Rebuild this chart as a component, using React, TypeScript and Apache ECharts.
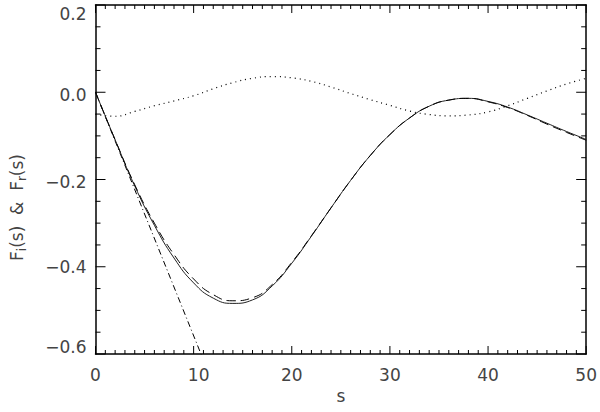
import React, { useEffect, useRef } from "react";
import * as echarts from "echarts";

// s grid (abscissa)
const sValues = [0, 2, 4, 6, 8, 10, 12, 14, 16, 18, 20, 22, 24, 26, 28, 30, 32, 34, 36, 38, 40, 42, 44, 46, 48, 50];
// solid curve
const solidValues = [0, -0.109, -0.215, -0.305, -0.38, -0.437, -0.472, -0.484, -0.476, -0.444, -0.392, -0.33, -0.265, -0.202, -0.145, -0.097, -0.059, -0.032, -0.018, -0.014, -0.021, -0.034, -0.052, -0.071, -0.09, -0.108];
// dashed curve
const dashedValues = [0, -0.109, -0.212, -0.3, -0.372, -0.428, -0.464, -0.478, -0.471, -0.441, -0.39, -0.329, -0.265, -0.202, -0.145, -0.097, -0.059, -0.032, -0.018, -0.014, -0.022, -0.035, -0.053, -0.073, -0.092, -0.11];
// dotted curve
const dottedValues = [-0.05, -0.055, -0.044, -0.031, -0.02, -0.008, 0.008, 0.022, 0.032, 0.036, 0.033, 0.025, 0.012, -0.003, -0.017, -0.03, -0.043, -0.051, -0.054, -0.052, -0.045, -0.031, -0.014, 0.003, 0.019, 0.032];
// dash-dot straight line
const lineS = [0, 11];
const lineValues = [0, -0.614];

const xTickLabels = ["0", "10", "20", "30", "40", "50"];
const yTickLabels = ["\u22120.6", "\u22120.4", "\u22120.2", "0.0", "0.2"];

const X_MIN = 0, X_MAX = 50, X_MAJOR = 10, X_MINOR = 1;
const Y_MIN = -0.6, Y_MAX = 0.2, Y_MAJOR = 0.2, Y_MINOR = 0.05;

const FONT = "'DejaVu Sans', sans-serif";
const TXT = "#444";

export default function App() {
  const ref = useRef<HTMLDivElement>(null);
  useEffect(() => {
    if (!ref.current) return;
    const chart = echarts.init(ref.current, null, { renderer: "svg" });
    const base = { fontFamily: FONT, fontSize: 17, color: TXT };
    const yPads = [[0, 0, 14, 0], [0, 0, 0, 0], [5, 0, 0, 0], [6, 0, 0, 0], [18, 0, 0, 0]];
    const yRich: any = {};
    yPads.forEach((p, i) => (yRich["y" + i] = { ...base, padding: p }));
    const xRich: any = {};
    xTickLabels.forEach((_, i) => (xRich["x" + i] = { ...base, padding: i === 1 ? [0, 0, 0, 10] : [0, 0, 0, 0] }));

    // tick positions along the axes: [x, y, kind(0=x,1=y), major]
    const tickData: number[][] = [];
    const nx = Math.round((X_MAX - X_MIN) / X_MINOR);
    for (let i = 0; i <= nx; i++) {
      const v = X_MIN + i * X_MINOR;
      tickData.push([v, Y_MIN, 0, Math.abs(v / X_MAJOR - Math.round(v / X_MAJOR)) < 1e-6 ? 1 : 0]);
    }
    const ny = Math.round((Y_MAX - Y_MIN) / Y_MINOR);
    for (let i = 0; i <= ny; i++) {
      const v = Y_MIN + i * Y_MINOR;
      tickData.push([X_MIN, v, 1, Math.abs(v / Y_MAJOR - Math.round(v / Y_MAJOR)) < 1e-6 ? 1 : 0]);
    }

    const axisCommon = {
      axisLine: { show: true, onZero: false, lineStyle: { color: "#000", width: 1.5 } },
      axisTick: { show: false },
      minorTick: { show: false },
      splitLine: { show: false },
    };

    const mk = (xs: number[], ys: number[]) => xs.map((s, i) => [s, ys[i]]);

    chart.setOption({
      animation: false,
      grid: { left: 94, right: 12, top: 5, bottom: 58 },
      xAxis: [
        {
          type: "value", min: X_MIN, max: X_MAX, interval: X_MAJOR, position: "bottom",
          ...axisCommon,
          axisLabel: {
            show: true, margin: 12,
            formatter: (v: number) => {
              const i = Math.round(v / 10);
              return `{x${i}|${xTickLabels[i]}}`;
            },
            rich: xRich,
          },
          name: "s", nameLocation: "middle", nameGap: 30,
          nameTextStyle: { ...base },
        },
        {
          type: "value", min: X_MIN, max: X_MAX, interval: X_MAJOR, position: "top",
          ...axisCommon,
          axisLabel: { show: false },
        },
      ],
      yAxis: [
        {
          type: "value", min: Y_MIN, max: Y_MAX, interval: Y_MAJOR, position: "left",
          ...axisCommon,
          axisLabel: {
            show: true, margin: 9,
            formatter: (v: number) => {
              const i = Math.round((v + 0.6) / 0.2);
              return `{y${i}|${yTickLabels[i]}}`;
            },
            rich: yRich,
          },
          name: "{a|F}{b|i}{a|(s)  &  F}{b|r}{a|(s)}",
          nameLocation: "middle", nameGap: 68,
          nameTextStyle: {
            ...base,
            padding: [0, 56, 0, 0],
            rich: {
              a: { ...base, lineHeight: 22 },
              b: { fontFamily: FONT, fontSize: 12, color: TXT, lineHeight: 8, verticalAlign: "bottom" },
            },
          },
        },
        {
          type: "value", min: Y_MIN, max: Y_MAX, interval: Y_MAJOR, position: "right",
          ...axisCommon,
          axisLabel: { show: false },
        },
      ],
      series: [
        {
          type: "custom",
          silent: true,
          clip: false,
          data: tickData,
          renderItem: (params: any, api: any) => {
            const cs = params.coordSys;
            const p = api.coord([api.value(0), api.value(1)]);
            const kind = api.value(2);
            const major = api.value(3) === 1;
            const style = { stroke: "#000", lineWidth: 1 };
            if (kind === 0) {
              const len = major ? 8 : 4;
              const bottom = cs.y + cs.height;
              const top = cs.y;
              return {
                type: "group",
                children: [
                  { type: "line", shape: { x1: p[0], y1: bottom, x2: p[0], y2: bottom - len }, style },
                  { type: "line", shape: { x1: p[0], y1: top, x2: p[0], y2: top + len }, style },
                ],
              };
            }
            const len = major ? 10 : 5;
            const left = cs.x;
            const right = cs.x + cs.width;
            return {
              type: "group",
              children: [
                { type: "line", shape: { x1: left, y1: p[1], x2: left + len, y2: p[1] }, style },
                { type: "line", shape: { x1: right, y1: p[1], x2: right - len, y2: p[1] }, style },
              ],
            };
          },
          z: 5,
        },
        {
          type: "line", data: mk(sValues, dottedValues), showSymbol: false, smooth: true,
          lineStyle: { color: "#000", width: 1.2, type: [1, 4] },
        },
        {
          type: "line", data: mk(lineS, lineValues), showSymbol: false,
          lineStyle: { color: "#000", width: 1, type: [6, 3, 1, 3] },
        },
        {
          type: "line", data: mk(sValues, solidValues), showSymbol: false, smooth: true,
          lineStyle: { color: "#222", width: 1 },
        },
        {
          type: "line", data: mk(sValues, dashedValues), showSymbol: false, smooth: true,
          lineStyle: { color: "#000", width: 1, type: [9, 5] },
        },
      ],
    });
    return () => chart.dispose();
  }, []);
  return <div ref={ref} style={{ position: "absolute", left: 0, top: 0, width: 600, height: 412, background: "#fff" }} />;
}
